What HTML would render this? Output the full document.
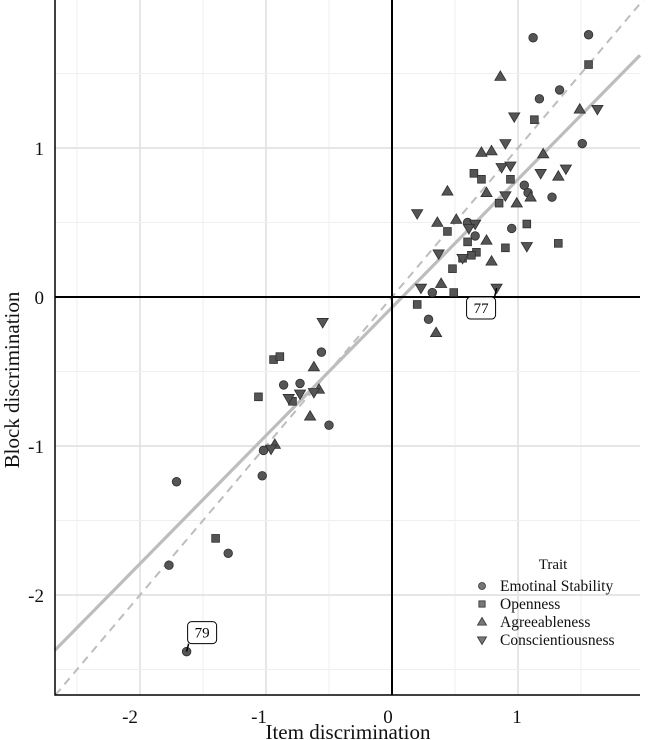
<!DOCTYPE html>
<html><head><meta charset="utf-8"><style>
body{margin:0;background:#fff;}
svg{display:block;font-family:"Liberation Serif",serif;}
</style></head><body>
<svg id="chart" width="650" height="740" xmlns="http://www.w3.org/2000/svg"></svg>
<script>
const esX=[1.12,1.56,1.33,1.17,1.51,1.05,1.08,1.27,0.60,0.66,0.95,0.32,0.29,-0.56,-0.86,-0.73,-0.50,-1.02,-1.71,-1.03,-1.77,-1.30,-1.63];
const esY=[1.74,1.76,1.39,1.33,1.03,0.75,0.70,0.67,0.50,0.41,0.46,0.03,-0.15,-0.37,-0.59,-0.58,-0.86,-1.03,-1.24,-1.20,-1.80,-1.72,-2.38];
const opX=[1.56,1.13,0.65,0.71,0.94,0.85,1.07,0.44,0.60,0.90,1.32,0.67,0.63,0.56,0.48,0.49,0.20,-0.94,-0.89,-1.06,-0.79,-1.40];
const opY=[1.56,1.19,0.83,0.79,0.79,0.63,0.49,0.44,0.37,0.33,0.36,0.30,0.28,0.26,0.19,0.03,-0.05,-0.42,-0.40,-0.67,-0.70,-1.62];
const agX=[0.86,1.49,0.71,0.79,1.20,1.32,0.44,0.75,1.10,0.99,0.36,0.51,0.75,0.79,0.39,0.35,-0.62,-0.58,-0.65,-0.93];
const agY=[1.48,1.26,0.97,0.98,0.96,0.81,0.71,0.70,0.67,0.63,0.50,0.52,0.38,0.24,0.09,-0.24,-0.47,-0.62,-0.80,-0.99];
const coX=[1.63,0.97,0.90,0.87,0.94,1.18,1.38,0.90,0.20,0.66,0.61,1.07,0.37,0.56,0.23,0.83,-0.55,-0.73,-0.62,-0.82,-0.96];
const coY=[1.26,1.21,1.03,0.87,0.88,0.83,0.86,0.68,0.56,0.49,0.46,0.34,0.29,0.26,0.06,0.06,-0.17,-0.65,-0.64,-0.68,-1.02];
const xTicks=[-2,-1,0,1];
const yTicks=[-2,-1,0,1];
const fitIntercept=-0.07, fitSlope=0.86;
const labelItems=[{name:"77",x:0.83,y:0.06},{name:"79",x:-1.63,y:-2.38}];

const NS="http://www.w3.org/2000/svg";
const svg=document.getElementById('chart');
const L=55,R=640,T=0,B=695;
const sx=v=>392+126*v, sy=v=>297-149*v;
const xmin=(L-392)/126, xmax=(R-392)/126, ymin=(297-B)/149, ymax=(297-T)/149;
function el(tag,attrs,parent){const e=document.createElementNS(NS,tag);for(const k in attrs)e.setAttribute(k,attrs[k]);(parent||svg).appendChild(e);return e;}

const grid=el('g',{});


for(let v=Math.ceil(xmin*2)/2;v<=xmax;v+=0.5){const maj=Math.abs(v-Math.round(v))<1e-6;el('line',{x1:sx(v),x2:sx(v),y1:T,y2:B,stroke:maj?'#e3e3e3':'#efefef','stroke-width':maj?1.8:1},grid);}
for(let v=Math.ceil(ymin*2)/2;v<=ymax;v+=0.5){const maj=Math.abs(v-Math.round(v))<1e-6;el('line',{x1:L,x2:R,y1:sy(v),y2:sy(v),stroke:maj?'#e3e3e3':'#efefef','stroke-width':maj?1.8:1},grid);}

const idl=el('line',{x1:sx(ymin),y1:sy(ymin),x2:sx(ymax),y2:sy(ymax),stroke:'#bdbdbd','stroke-width':2,'stroke-dasharray':'8,6'});


const fl=el('line',{x1:sx(xmin),y1:sy(fitIntercept+fitSlope*xmin),x2:sx(xmax),y2:sy(fitIntercept+fitSlope*xmax),stroke:'#bdbdbd','stroke-width':3.2});



const zx=el('line',{x1:sx(0),x2:sx(0),y1:T,y2:B,stroke:'#000','stroke-width':2});


const zy=el('line',{x1:L,x2:R,y1:sy(0),y2:sy(0),stroke:'#000','stroke-width':2});



const ax=el('path',{d:`M${L},${T}V${B}H${R}`,fill:'none',stroke:'#000','stroke-width':1.5});



function marker(shape,x,y,g,r){
  r=r||4.3;let e;
  if(shape==='circle')e=el('circle',{cx:x,cy:y,r:r},g);
  else if(shape==='square')e=el('rect',{x:x-r*0.9,y:y-r*0.9,width:r*1.8,height:r*1.8},g);
  else if(shape==='up')e=el('polygon',{points:`${x},${y-r*1.3} ${x-r*1.3},${y+r*0.9} ${x+r*1.3},${y+r*0.9}`},g);
  else e=el('polygon',{points:`${x},${y+r*1.3} ${x-r*1.3},${y-r*0.9} ${x+r*1.3},${y-r*0.9}`},g);
  return e;
}
const series=[["emotional-stability",'circle',esX,esY],["openness",'square',opX,opY],["agreeableness",'up',agX,agY],["conscientiousness",'down',coX,coY]];
series.forEach(([nm,sh,xs,ys])=>{
  const g=el('g',{fill:'#555','stroke':'#2e2e2e','stroke-width':0.8});
  
  
  xs.forEach((v,i)=>{const m=marker(sh,sx(v),sy(ys[i]),g);
    
    });
});

labelItems.forEach(it=>{
  const px=sx(it.x),py=sy(it.y);
  const g=el('g',{});
  
  
  let bx,by;
  if(it.name==='77'){bx=px-30;by=py+9;}else{bx=px+1;by=py-30;}
  el('line',{x1:px,y1:py,x2:bx+(it.name==='77'?28:1),y2:by+(it.name==='77'?0:22),stroke:'#000','stroke-width':1.5},g);
  el('rect',{x:bx,y:by,width:29,height:22,rx:4,fill:'#fff',stroke:'#000','stroke-width':1},g);
  const t=el('text',{x:bx+14.5,y:by+16,'text-anchor':'middle','font-size':15,fill:'#000'},g);t.textContent=it.name;
});

xTicks.forEach(v=>{const t=el('text',{x:388+129*v,y:723,'text-anchor':'middle','font-size':19,fill:'#111'});t.textContent=v;
  
  });
yTicks.forEach(v=>{const t=el('text',{x:44,y:sy(v)+7,'text-anchor':'end','font-size':19,fill:'#111'});t.textContent=v;
  
  });
const xt=el('text',{x:348,y:739,'text-anchor':'middle','font-size':21,fill:'#111'});xt.textContent='Item discrimination';


const yt=el('text',{x:0,y:0,'text-anchor':'middle','font-size':21,fill:'#111',transform:'translate(19,380) rotate(-90)'});yt.textContent='Block discrimination';



const lg=el('g',{});


const lt=el('text',{x:553,y:569,'text-anchor':'middle','font-size':15,fill:'#111'},lg);lt.textContent='Trait';
const names=['Emotinal Stability','Openness','Agreeableness','Conscientiousness'];
const shapes=['circle','square','up','down'];
names.forEach((n,i)=>{const y=586+18*i;
  const e=el('g',{},lg);
  
  
  const m=marker(shapes[i],482,y,e,3.5);m.setAttribute('fill','#777');m.setAttribute('stroke','#333');m.setAttribute('stroke-width','0.8');
  const t=el('text',{x:500,y:y+5,'font-size':15.5,fill:'#111'},e);t.textContent=n;});
</script>
</body></html>
